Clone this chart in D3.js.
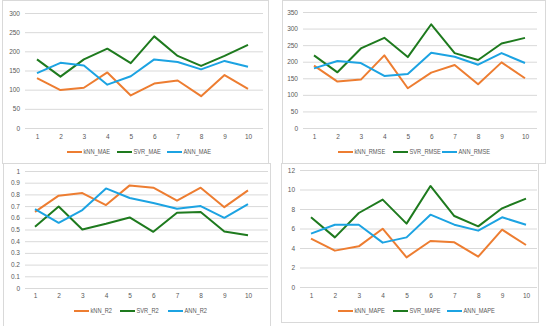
<!DOCTYPE html>
<html><head><meta charset="utf-8">
<script src="https://cdn.jsdelivr.net/npm/d3@7"></script>
<style>body{margin:0;background:#fff}svg{display:block}</style>
</head><body>
<svg id="c" width="550" height="326"></svg>
<script>
const folds = [1,2,3,4,5,6,7,8,9,10];
const knnMAE = [130,99,105,145,85,116,124,83,138,102];
const svrMAE = [179,134,179,207,169,239,188,162,188,217];
const annMAE = [143,170,163,113,135,179,172,153,175,160];
const knnRMSE = [188,140,146,219,120,167,190,132,198,150];
const svrRMSE = [219,168,240,272,214,313,226,205,255,272];
const annRMSE = [180,202,196,157,163,227,215,191,226,196];
const knnR2 = [0.651,0.789,0.811,0.709,0.877,0.857,0.746,0.857,0.691,0.834];
const svrR2 = [0.523,0.697,0.50,0.549,0.603,0.48,0.643,0.649,0.483,0.451];
const annR2 = [0.674,0.557,0.666,0.851,0.769,0.726,0.677,0.70,0.60,0.717];
const knnMAPE = [4.96,3.73,4.17,5.98,3.04,4.72,4.58,3.11,5.88,4.31];
const svrMAPE = [7.15,5.09,7.59,8.96,6.5,10.36,7.28,6.22,8.07,9.06];
const annMAPE = [5.47,6.39,6.39,4.55,5.09,7.42,6.39,5.78,7.15,6.39];
const ticksMAE = [0,50,100,150,200,250,300];
const ticksRMSE = [0,50,100,150,200,250,300,350];
const ticksR2 = [0,0.1,0.2,0.3,0.4,0.5,0.6,0.7,0.8,0.9,1];
const ticksMAPE = [0,2,4,6,8,10,12];
const seriesNames = ["kNN","SVR","ANN"];
const colors = ["#ED7D31","#1E7A1E","#1CA3E2"];

const panels = [
 {box:[2,0,266,163], gx:[25,263], yr:[128,13], xr:[37,248], xl:137, lg:152, lx:[67,117,167], metric:"MAE", data:[knnMAE,svrMAE,annMAE], ticks:ticksMAE},
 {box:[282,0,263,163], gx:[303,537], yr:[128,12], xr:[314,525], xl:137, lg:152, lx:[338,393,442], metric:"RMSE", data:[knnRMSE,svrRMSE,annRMSE], ticks:ticksRMSE},
 {box:[3,163,267,163], gx:[25,268], yr:[288,171], xr:[35,248], xl:296, lg:311, lx:[74,120,168], metric:"R2", data:[knnR2,svrR2,annR2], ticks:ticksR2},
 {box:[281,163,257,159], gx:[300,537], yr:[287,170], xr:[311,526], xl:296, lg:311, lx:[338,393,447], metric:"MAPE", data:[knnMAPE,svrMAPE,annMAPE], ticks:ticksMAPE}
];
const svg = d3.select("#c");
const font = "'Liberation Sans', Arial, sans-serif";
panels.forEach(p => {
  const g = svg.append("g");
  g.append("rect").attr("x",p.box[0]+0.5).attr("y",p.box[1]+0.5).attr("width",p.box[2]).attr("height",p.box[3])
    .attr("fill","#fff").attr("stroke","#d9d9d9").attr("stroke-width",1);
  const y = d3.scaleLinear().domain([p.ticks[0], p.ticks[p.ticks.length-1]]).range(p.yr);
  const x = d3.scalePoint().domain(folds).range(p.xr);
  const ya = d3.axisLeft(y).tickValues(p.ticks).tickSize(-(p.gx[1]-p.gx[0])).tickPadding(5)
     .tickFormat(d => d3.format("~g")(+d.toFixed(2)));
  const yg = g.append("g").attr("transform",`translate(${p.gx[0]},0)`).call(ya);
  yg.select(".domain").remove();
  yg.selectAll(".tick line").attr("stroke","#d9d9d9").attr("stroke-width",1);
  yg.selectAll("text").attr("fill","#595959").style("font-size","6.5px").style("font-family",font);
  const xa = d3.axisBottom(x).tickSize(0).tickPadding(0);
  const xg = g.append("g").attr("transform",`translate(0,${p.xl-3})`).call(xa);
  xg.select(".domain").remove();
  xg.selectAll("text").attr("fill","#595959").style("font-size","6.5px").style("font-family",font).attr("dy","0.71em");
  const line = d3.line().x((d,i)=>x(folds[i])).y(d=>y(d));
  p.data.forEach((s,k) => {
    g.append("path").datum(s).attr("d",line).attr("fill","none").attr("stroke",colors[k])
      .attr("stroke-width",2).attr("stroke-linejoin","round");
    g.append("line").attr("x1",p.lx[k]).attr("x2",p.lx[k]+15).attr("y1",p.lg).attr("y2",p.lg)
      .attr("stroke",colors[k]).attr("stroke-width",2);
    g.append("text").attr("transform",`translate(${p.lx[k]+16.5},${p.lg}) scale(0.84,1)`).attr("dy","0.35em")
      .attr("fill","#595959").style("font-size","6.8px").style("font-family",font)
      .text(seriesNames[k]+"_"+p.metric);
  });
});
</script>
</body></html>
